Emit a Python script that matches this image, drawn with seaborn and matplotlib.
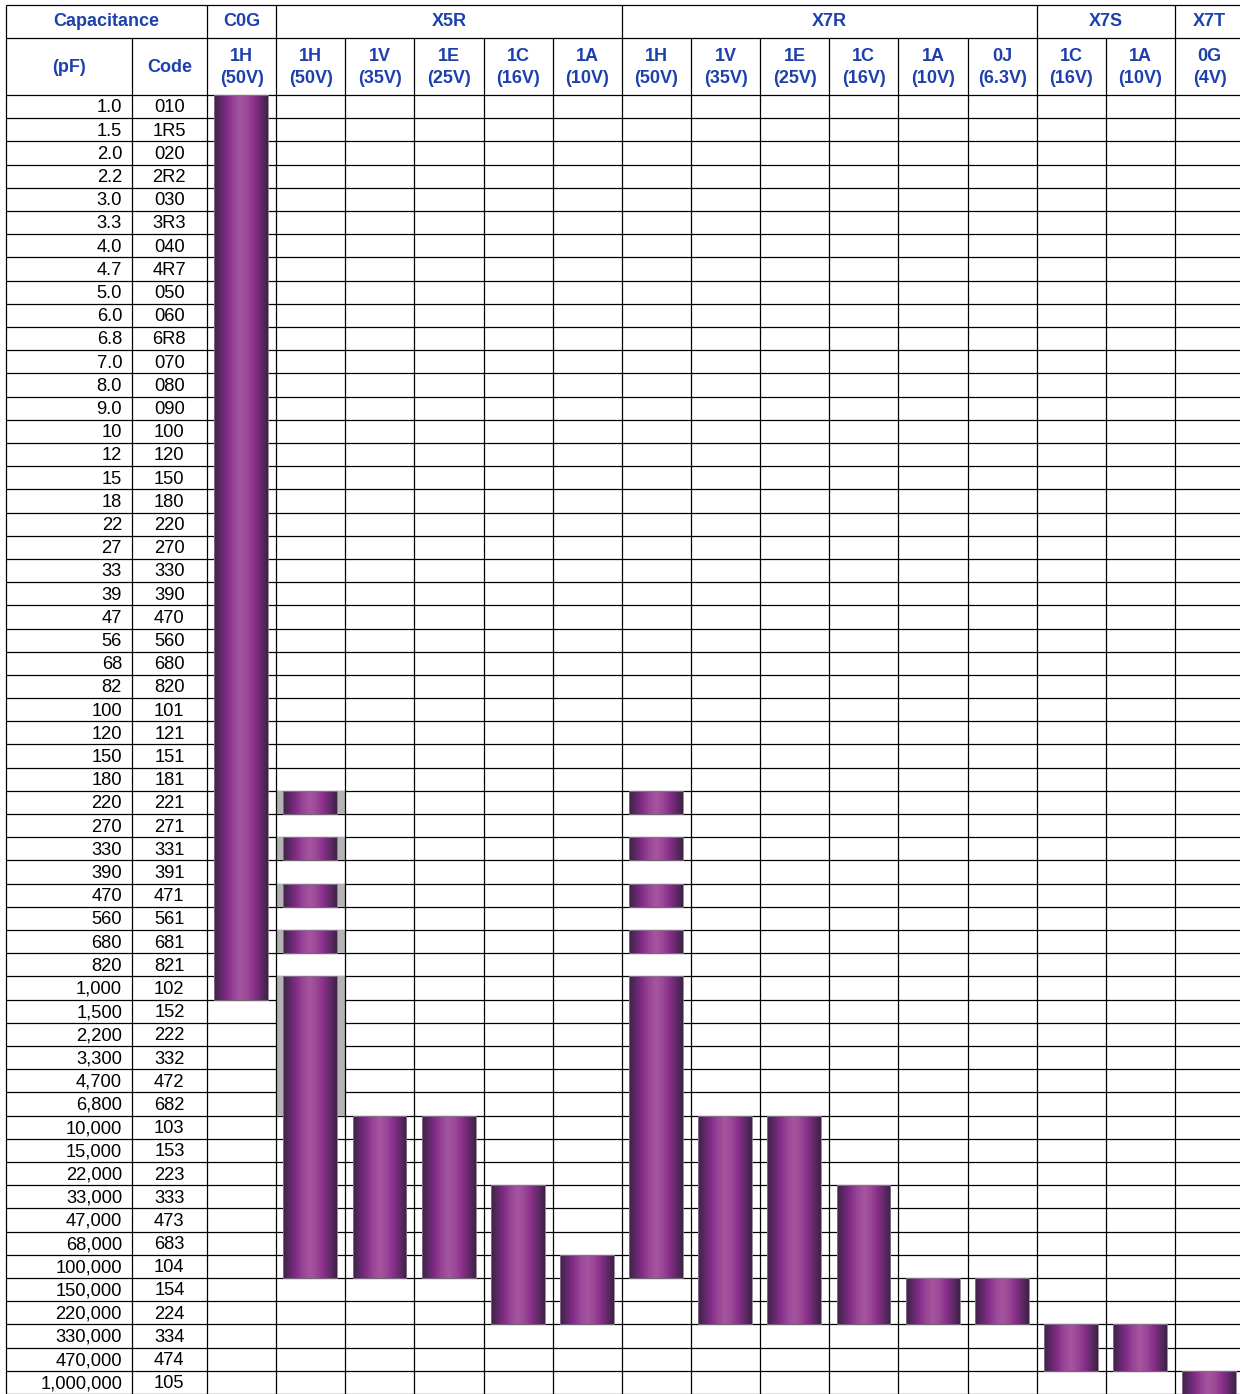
import numpy as np
import matplotlib
matplotlib.use("Agg")
import matplotlib.pyplot as plt
import seaborn as sns

# ---------------- data ----------------
cap_pf = ["1.0", "1.5", "2.0", "2.2", "3.0", "3.3", "4.0", "4.7", "5.0", "6.0",
          "6.8", "7.0", "8.0", "9.0", "10", "12", "15", "18", "22", "27",
          "33", "39", "47", "56", "68", "82", "100", "120", "150", "180",
          "220", "270", "330", "390", "470", "560", "680", "820", "1,000", "1,500",
          "2,200", "3,300", "4,700", "6,800", "10,000", "15,000", "22,000", "33,000", "47,000", "68,000",
          "100,000", "150,000", "220,000", "330,000", "470,000", "1,000,000"]
cap_code = ["010", "1R5", "020", "2R2", "030", "3R3", "040", "4R7", "050", "060",
            "6R8", "070", "080", "090", "100", "120", "150", "180", "220", "270",
            "330", "390", "470", "560", "680", "820", "101", "121", "151", "181",
            "221", "271", "331", "391", "471", "561", "681", "821", "102", "152",
            "222", "332", "472", "682", "103", "153", "223", "333", "473", "683",
            "104", "154", "224", "334", "474", "105"]

dielectrics = ["C0G", "X5R", "X7R", "X7S", "X7T"]
dielectric_span = [1, 5, 6, 2, 1]

rated_code = ["1H", "1H", "1V", "1E", "1C", "1A", "1H", "1V", "1E", "1C", "1A", "0J", "1C", "1A", "0G"]
rated_volt = ["50V", "50V", "35V", "25V", "16V", "10V", "50V", "35V", "25V", "16V", "10V", "6.3V", "16V", "10V", "4V"]

range_min = ["1.0", "220", "10,000", "10,000", "33,000", "100,000",
             "220", "10,000", "10,000", "33,000", "150,000", "150,000",
             "330,000", "330,000", "1,000,000"]
range_max = ["1,000", "100,000", "100,000", "100,000", "220,000", "220,000",
             "100,000", "220,000", "220,000", "220,000", "220,000", "220,000",
             "470,000", "470,000", "1,000,000"]

# columns where only E3-style steps are available in the low range
stepped = [False, True, False, False, False, False,
           True, False, False, False, False, False,
           False, False, False]
missing_steps = ["270", "390", "560", "820"]

# grey-shaded part of a column
shaded_column = 1
shaded_from = "220"
shaded_to = "6,800"

# ---------------- style ----------------
sns.set_theme(style="white")
plt.rcParams["font.family"] = ["Liberation Sans", "DejaVu Sans"]

HEAD_BLUE = "#1e40ae"
GREY = "#b3b3b3"
bar_cmap = sns.blend_palette(["#3c2242", "#60286a", "#842d88", "#9a4697", "#a5569e",
                              "#9b4797", "#8a2f8b", "#62296a", "#3c2242"], as_cmap=True)

W, H = 1240, 1394
CW = 69.14          # px per data column
RH = 23.196         # px per row
X0_PX, Y0_PX = 207.0, 95.0

def px_x(p):
    return (p - X0_PX) / CW

def px_y(p):
    return (p - Y0_PX) / RH

ncol = len(rated_code)
nrow = len(cap_pf)

fig = plt.figure(figsize=(W / 100, H / 100), dpi=100)
ax = fig.add_axes([0, 0, 1, 1])
ax.axis("off")

x_left = px_x(6.3)
x_code = px_x(131.7)
y_top = px_y(4.5)
y_mid = px_y(38.0)
LW = 0.9

# horizontal rules
ax.hlines([y_top, y_mid] + list(range(nrow + 1)), x_left, ncol, color="black", lw=LW, zorder=1)
# vertical rules
ax.vlines([x_left], y_top, nrow, color="black", lw=LW, zorder=4)
ax.vlines([x_code], y_mid, nrow, color="black", lw=LW, zorder=4)
ax.vlines(list(range(ncol + 1)), y_mid, nrow, color="black", lw=LW, zorder=4)
bounds = np.concatenate([[0], np.cumsum(dielectric_span)])
ax.vlines(bounds, y_top, y_mid, color="black", lw=LW, zorder=4)

# header texts
hkw = dict(color=HEAD_BLUE, fontsize=13, fontweight="bold", ha="center", va="center")
yh1 = px_y(21.5)
ax.text((x_left + 0) / 2, yh1, "Capacitance", **hkw)
for name, a, b in zip(dielectrics, bounds[:-1], bounds[1:]):
    ax.text((a + b) / 2, yh1, name, **hkw)
ax.text((x_left + x_code) / 2, px_y(67.5), "(pF)", **hkw)
ax.text((x_code + 0) / 2, px_y(67.5), "Code", **hkw)
for j, (rc, rv) in enumerate(zip(rated_code, rated_volt)):
    ax.text(j + 0.5, px_y(56.5), rc, **hkw)
    ax.text(j + 0.5, px_y(78.5), f"({rv})", **hkw)

# row labels
for i, (pf, cd) in enumerate(zip(cap_pf, cap_code)):
    ax.text(px_x(122), i + 0.56, pf, ha="right", va="center", fontsize=13.2, color="black")
    ax.text(x_code / 2, i + 0.56, cd, ha="center", va="center", fontsize=13.2, color="black")

# bars
BAR_L = 0.105
BAR_W = 0.78
grad = np.linspace(0, 1, 256).reshape(1, -1)
row_of = {v: k for k, v in enumerate(cap_pf)}

def segments(j):
    a, b = row_of[range_min[j]], row_of[range_max[j]]
    rows = [r for r in range(a, b + 1)
            if not (stepped[j] and cap_pf[r] in missing_steps)]
    segs, start, prev = [], None, None
    for r in rows:
        if start is None:
            start = prev = r
        elif r == prev + 1:
            prev = r
        else:
            segs.append((start, prev))
            start = prev = r
    if start is not None:
        segs.append((start, prev))
    return segs

for j in range(ncol):
    for s, e in segments(j):
        n = e - s + 1
        if j == shaded_column:
            gs = max(s, row_of[shaded_from])
            ge = min(e, row_of[shaded_to])
            if ge >= gs:
                ax.bar(j, ge - gs + 1, bottom=gs, width=BAR_L, align="edge",
                       color=GREY, lw=0, zorder=2)
                ax.bar(j + BAR_L + BAR_W, ge - gs + 1, bottom=gs, width=1 - BAR_L - BAR_W,
                       align="edge", color=GREY, lw=0, zorder=2)
        cont = ax.bar(j + BAR_L, n, bottom=s, width=BAR_W, align="edge",
                      facecolor="none", edgecolor="#8a7890", lw=0.6, zorder=3.5)
        patch = cont[0]
        im = ax.imshow(grad, extent=(j + BAR_L, j + BAR_L + BAR_W, s + n, s),
                       aspect="auto", cmap=bar_cmap, interpolation="bilinear", zorder=3)
        im.set_clip_path(patch)

ax.set_xlim(-X0_PX / CW, (W - X0_PX) / CW)
ax.set_ylim((H - Y0_PX) / RH, -Y0_PX / RH)

fig.savefig("out.png", dpi=100)
